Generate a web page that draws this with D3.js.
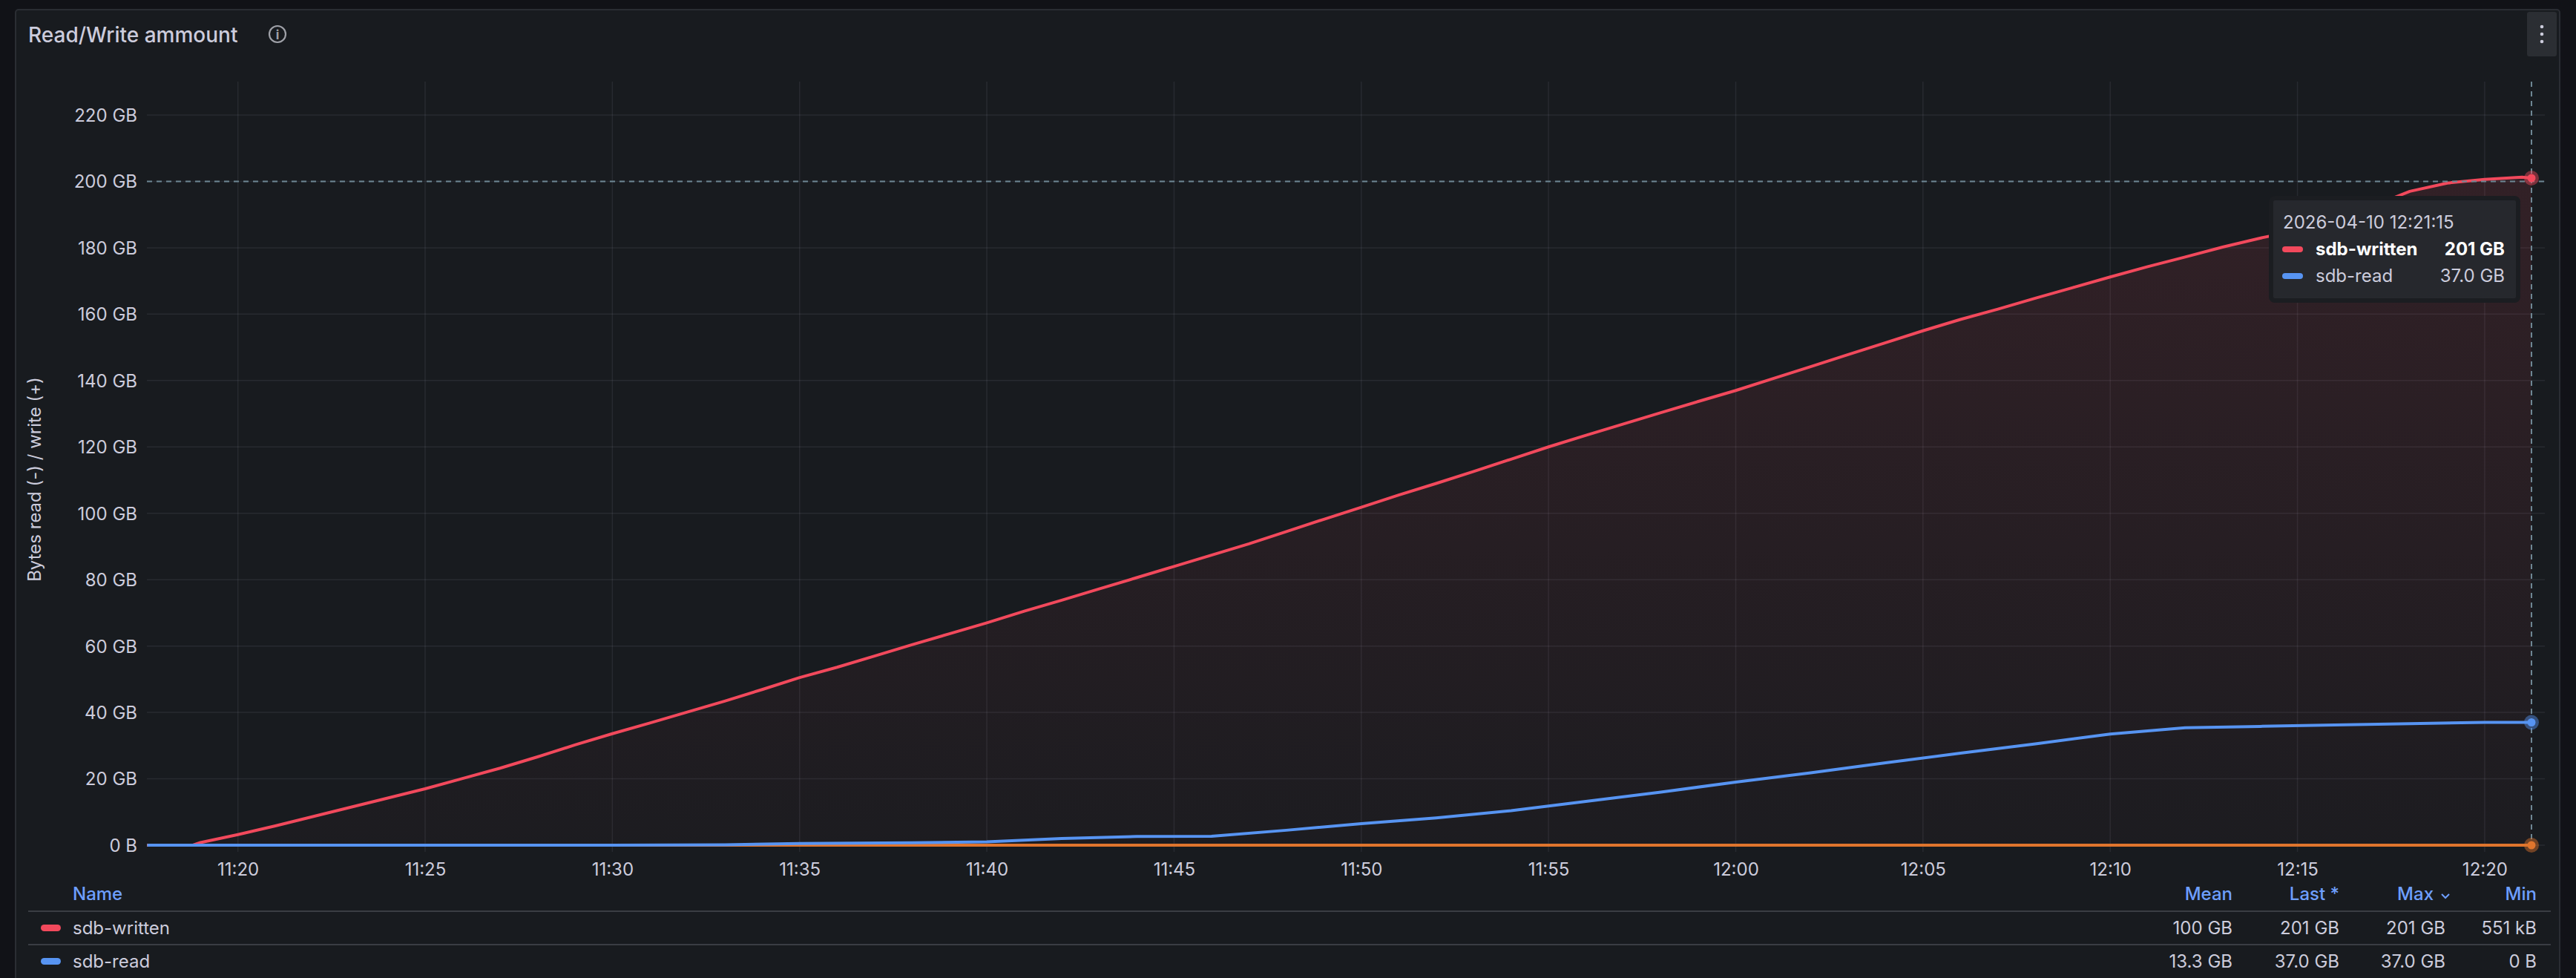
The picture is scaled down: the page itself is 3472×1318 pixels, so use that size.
<!DOCTYPE html>
<html><head><meta charset="utf-8">
<script src="https://cdn.jsdelivr.net/npm/d3@7"></script>
<style>body{margin:0;background:#111217;}svg{display:block;font-family:Inter,"Open Sans",sans-serif;}</style>
</head><body>
<svg id="c" width="3472" height="1318"></svg>
<script>
// minutes after 11:00 and values (GB)
const writtenMinutes = [17.58,18.8,19,20,21,22,23,24,25,26,27,28,29,30,31,32,33,34,35,36,37,38,39,40,41,42,43,44,45,46,47,48,49,50,51,52,53,54,55,56,57,58,59,60,61,62,63,64,65,66,67,68,69,70,71,72,73,74,75,76,77,78,79,80,81,81.25];
const writtenGB = [0.0005,0,0.8,3.2,5.8,8.6,11.4,14.2,17.0,20.1,23.2,26.6,30.2,33.6,36.8,40.1,43.4,46.9,50.5,53.6,57.0,60.4,63.7,67.0,70.5,73.8,77.2,80.6,84.0,87.4,90.8,94.5,98.2,101.8,105.5,109.0,112.6,116.3,120.0,123.5,126.9,130.3,133.7,137.0,140.6,144.2,147.8,151.4,155.0,158.4,161.5,164.8,168.0,171.2,174.3,177.2,180.2,182.9,185.2,188.6,192.5,197.0,199.5,200.6,201.3,201.0];
const readMinutes = [17.58,25,30,33,35,38,40,42,44,46,48,50,52,54,56,58,60,62,64,66,68,70,72,74,76,78,80,81.25];
const readGB = [0,0,0,0.1,0.5,0.7,1.0,2.0,2.6,2.7,4.5,6.5,8.2,10.4,13.2,16.0,19.0,21.8,24.8,27.7,30.5,33.5,35.4,35.8,36.2,36.6,37.0,37.0];
const yTicks = [0,20,40,60,80,100,120,140,160,180,200,220];
const xTickMinutes = [20,25,30,35,40,45,50,55,60,65,70,75,80];
const legendNames = ["sdb-written","sdb-read"];
const legendMean = ["100 GB","13.3 GB"], legendLast = ["201 GB","37.0 GB"], legendMax = ["201 GB","37.0 GB"], legendMin = ["551 kB","0 B"];
const colors = ["#f2495c","#5794f2"];

const svg = d3.select("#c");
const txt = "#ccccdc";
svg.append("rect").attr("x",21).attr("y",13).attr("width",3429).attr("height",1320).attr("rx",4).attr("fill","#181b1f").attr("stroke","#2a2d33").attr("stroke-width",2);
svg.append("text").attr("x",38).attr("y",57).attr("fill",txt).attr("font-size",28).attr("font-weight",500).text("Read/Write ammount");
svg.append("circle").attr("cx",374).attr("cy",46).attr("r",11).attr("fill","none").attr("stroke","#9fa1a8").attr("stroke-width",2.2);
svg.append("text").attr("x",374).attr("y",53).attr("text-anchor","middle").attr("fill","#9fa1a8").attr("font-size",17).attr("font-weight",700).text("i");
svg.append("rect").attr("x",3406).attr("y",16).attr("width",40).attr("height",60).attr("rx",3).attr("fill","#2b2e33");
[36,46,56].forEach(y=>svg.append("circle").attr("cx",3426).attr("cy",y).attr("r",2.3).attr("fill",txt));

const base = new Date(2026,3,10,11,0,0);
const t = m => new Date(base.getTime()+m*60000);
const x = d3.scaleTime().domain([t(17.57),t(81.25)]).range([198,3412]);
const y = d3.scaleLinear().domain([0,220]).range([1139,155]);
const g = svg.append("g");
const grid = "rgba(204,204,220,0.09)";
xTickMinutes.forEach(m=>g.append("line").attr("x1",x(t(m))).attr("x2",x(t(m))).attr("y1",110).attr("y2",1148).attr("stroke",grid).attr("stroke-width",1.5));
yTicks.forEach(v=>g.append("line").attr("x1",198).attr("x2",3430).attr("y1",y(v)).attr("y2",y(v)).attr("stroke",grid).attr("stroke-width",1.5));
const ya = svg.append("g").attr("transform","translate(188,0)").call(d3.axisLeft(y).tickValues(yTicks).tickSize(0).tickFormat(d=>d===0?"0 B":d+" GB"));
ya.select(".domain").remove();
ya.selectAll("text").attr("fill",txt).attr("font-size",24).attr("font-family","Inter,sans-serif").attr("dy","0.35em");
const xa = svg.append("g").attr("transform","translate(0,1160)").call(d3.axisBottom(x).tickValues(xTickMinutes.map(t)).tickSize(0).tickFormat(d3.timeFormat("%H:%M")));
xa.select(".domain").remove();
xa.selectAll("text").attr("fill",txt).attr("font-size",24).attr("font-family","Inter,sans-serif").attr("dy","0.71em");
svg.append("text").attr("transform","translate(55,646) rotate(-90)").attr("text-anchor","middle").attr("fill",txt).attr("font-size",24).text("Bytes read (-) / write (+)");

const defs = svg.append("defs");
const gr=defs.append("linearGradient").attr("id","gr0").attr("x1",0).attr("x2",0).attr("y1",0).attr("y2",1);
gr.append("stop").attr("offset",0).attr("stop-color",colors[0]).attr("stop-opacity",0.12);
gr.append("stop").attr("offset",1).attr("stop-color",colors[0]).attr("stop-opacity",0.02);
const series = [[writtenMinutes,writtenGB],[readMinutes,readGB]];
{
 const d = writtenMinutes.map((m,k)=>[t(m),writtenGB[k]]);
 svg.append("path").datum(d).attr("fill","url(#gr0)").attr("d",d3.area().x(p=>x(p[0])).y0(y(0)).y1(p=>y(p[1])));
}
// zero line
svg.append("line").attr("x1",x(t(17.57))).attr("x2",x(t(81.25))).attr("y1",y(0)).attr("y2",y(0)).attr("stroke","#e0752d").attr("stroke-width",4);
series.forEach(([ms,vs],i)=>{
 const d = ms.map((m,k)=>[t(m),vs[k]]);
 svg.append("path").datum(d).attr("fill","none").attr("stroke",colors[i]).attr("stroke-width",4).attr("stroke-linejoin","round").attr("d",d3.line().x(p=>x(p[0])).y(p=>y(p[1])));
});
// crosshair
const cx = x(t(81.25));
svg.append("line").attr("x1",cx).attr("x2",cx).attr("y1",110).attr("y2",1148).attr("stroke","#6e8794").attr("stroke-width",2).attr("stroke-dasharray","7,6");
svg.append("line").attr("x1",198).attr("x2",3430).attr("y1",y(200)).attr("y2",y(200)).attr("stroke","#6e8794").attr("stroke-width",2).attr("stroke-dasharray","7,6");
[[201.0,"#f2495c"],[37.0,"#5794f2"],[0,"#e0752d"]].forEach(([v,c])=>{
 svg.append("circle").attr("cx",cx).attr("cy",y(v)).attr("r",10).attr("fill",c).attr("opacity",0.45);
 svg.append("circle").attr("cx",cx).attr("cy",y(v)).attr("r",5.5).attr("fill",c);
});
// tooltip
svg.append("rect").attr("x",3061).attr("y",267).attr("width",333).attr("height",138).attr("rx",5).attr("fill","#26282d").attr("stroke","#1b1d21").attr("stroke-width",6);
svg.append("text").attr("x",3077).attr("y",308).attr("fill",txt).attr("font-size",24).text("2026-04-10 12:21:15");
legendNames.forEach((n,i)=>{
 const yy = 344+36*i;
 svg.append("rect").attr("x",3076).attr("y",yy-12).attr("width",28).attr("height",8).attr("rx",4).attr("fill",colors[i]);
 svg.append("text").attr("x",3121).attr("y",yy).attr("fill",i?txt:"#fff").attr("font-weight",i?400:700).attr("font-size",24).text(n);
 svg.append("text").attr("x",3376).attr("y",yy).attr("text-anchor","end").attr("fill",i?txt:"#fff").attr("font-weight",i?400:700).attr("font-size",24).text(legendLast[i]);
});
// legend table
const blue = "#6e9fff";
svg.append("text").attr("x",98).attr("y",1213).attr("fill",blue).attr("font-size",24).attr("font-weight",500).text("Name");
[["Mean",3009],["Last *",3153],["Max",3280],["Min",3419]].forEach(([h,xx])=>svg.append("text").attr("x",xx).attr("y",1213).attr("text-anchor","end").attr("fill",blue).attr("font-size",24).attr("font-weight",500).text(h));
svg.append("path").attr("d","M3291,1205 l5,5 l5,-5").attr("fill","none").attr("stroke",blue).attr("stroke-width",2);
[1228,1273].forEach(yy=>svg.append("line").attr("x1",38).attr("x2",3438).attr("y1",yy).attr("y2",yy).attr("stroke","#3a3d43").attr("stroke-width",2));
legendNames.forEach((n,i)=>{
 const yy = 1259+45*i;
 svg.append("rect").attr("x",55).attr("y",yy-13).attr("width",27).attr("height",9).attr("rx",4.5).attr("fill",colors[i]);
 svg.append("text").attr("x",98).attr("y",yy).attr("fill",txt).attr("font-size",24).text(n);
 [[legendMean,3009],[legendLast,3153],[legendMax,3296],[legendMin,3419]].forEach(([arr,xx])=>svg.append("text").attr("x",xx).attr("y",yy).attr("text-anchor","end").attr("fill",txt).attr("font-size",24).attr("data-v",1).text(arr[i]));
});
</script></body></html>
